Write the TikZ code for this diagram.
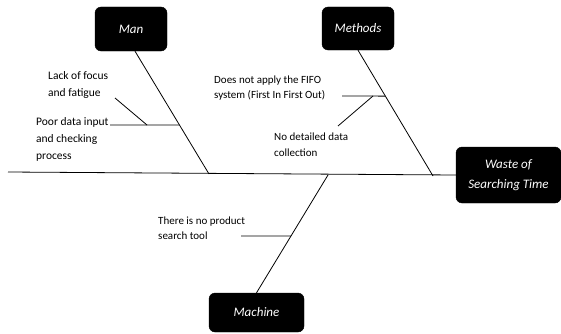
\documentclass[tikz,border=0pt]{standalone}
\usepackage{fontspec}
\setmainfont{Carlito}
\usetikzlibrary{calc}
\begin{document}
\begin{tikzpicture}[x=1pt,y=1pt,
  catbox/.style={draw=black,fill=black,rounded corners=6pt,text=white,inner sep=0pt,
    font=\fontsize{13}{20}\itshape\selectfont,align=center},
  bone/.style={draw=black,line width=0.8pt},
  cause/.style={inner sep=0pt,anchor=west,align=left,text=black}]
\useasboundingbox (0,0) rectangle (561,333);
% category boxes
\node[catbox,minimum width=72pt,minimum height=44pt] (man) at (131,304) {Man};
\node[catbox,minimum width=72pt,minimum height=43pt] (methods) at (358,304.5) {Methods};
\node[catbox,minimum width=105pt,minimum height=56pt] (waste) at (508.5,158) {Waste of\\Searching Time};
\node[catbox,minimum width=95pt,minimum height=39pt] (machine) at (256.5,20.5) {Machine};
% spine
\coordinate (spineL) at (8,161);
\draw[bone] (spineL) -- (waste.west);
% bone ends on spine
\coordinate (manEnd) at (209,159);
\coordinate (methEnd) at (433,157);
\coordinate (machEnd) at (328,158);
\coordinate (manTop) at ([xshift=4pt]man.south);
\draw[bone] (manTop) -- (manEnd);
\draw[bone] (methods.south) -- (methEnd);
\draw[bone] (machine.north) -- (machEnd);
% man sub-branches
\coordinate (manB) at ($(manTop)!0.6016!(manEnd)$);
\coordinate (manBL) at (110,208);
\draw[bone] (manBL) -- (manB);
\coordinate (manDa) at (115,235);
\coordinate (manDb) at (147,208);
\draw[bone] (manDa) -- (manDb);
% methods sub-branches
\coordinate (methB) at ($(methods.south)!0.365!(methEnd)$);
\coordinate (methBL) at (342,237);
\draw[bone] (methBL) -- (methB);
\coordinate (methDa) at (338,207);
\coordinate (methDb) at (373,237);
\draw[bone] (methDa) -- (methDb);
% machine sub-branch
\coordinate (machB) at ($(machEnd)!0.517!(machine.north)$);
\coordinate (machBL) at (241,97);
\draw[bone] (machBL) -- (machB);
% cause texts
\node[cause,font=\fontsize{11.5}{17}\selectfont] (t1) at (48,248.5) {Lack of focus\\and fatigue};
\node[cause,font=\fontsize{11.5}{17}\selectfont] (t2) at (36,194) {Poor data input\\and checking\\process};
\node[cause,font=\fontsize{11}{14.3}\selectfont] (t3) at (214,245) {Does not apply the FIFO\\system (First In First Out)};
\node[cause,font=\fontsize{11}{15.6}\selectfont] (t4) at (274,188.3) {No detailed data\\collection};
\node[cause,font=\fontsize{11}{14.7}\selectfont] (t5) at (158,104.6) {There is no product\\search tool};
\end{tikzpicture}
\end{document}
